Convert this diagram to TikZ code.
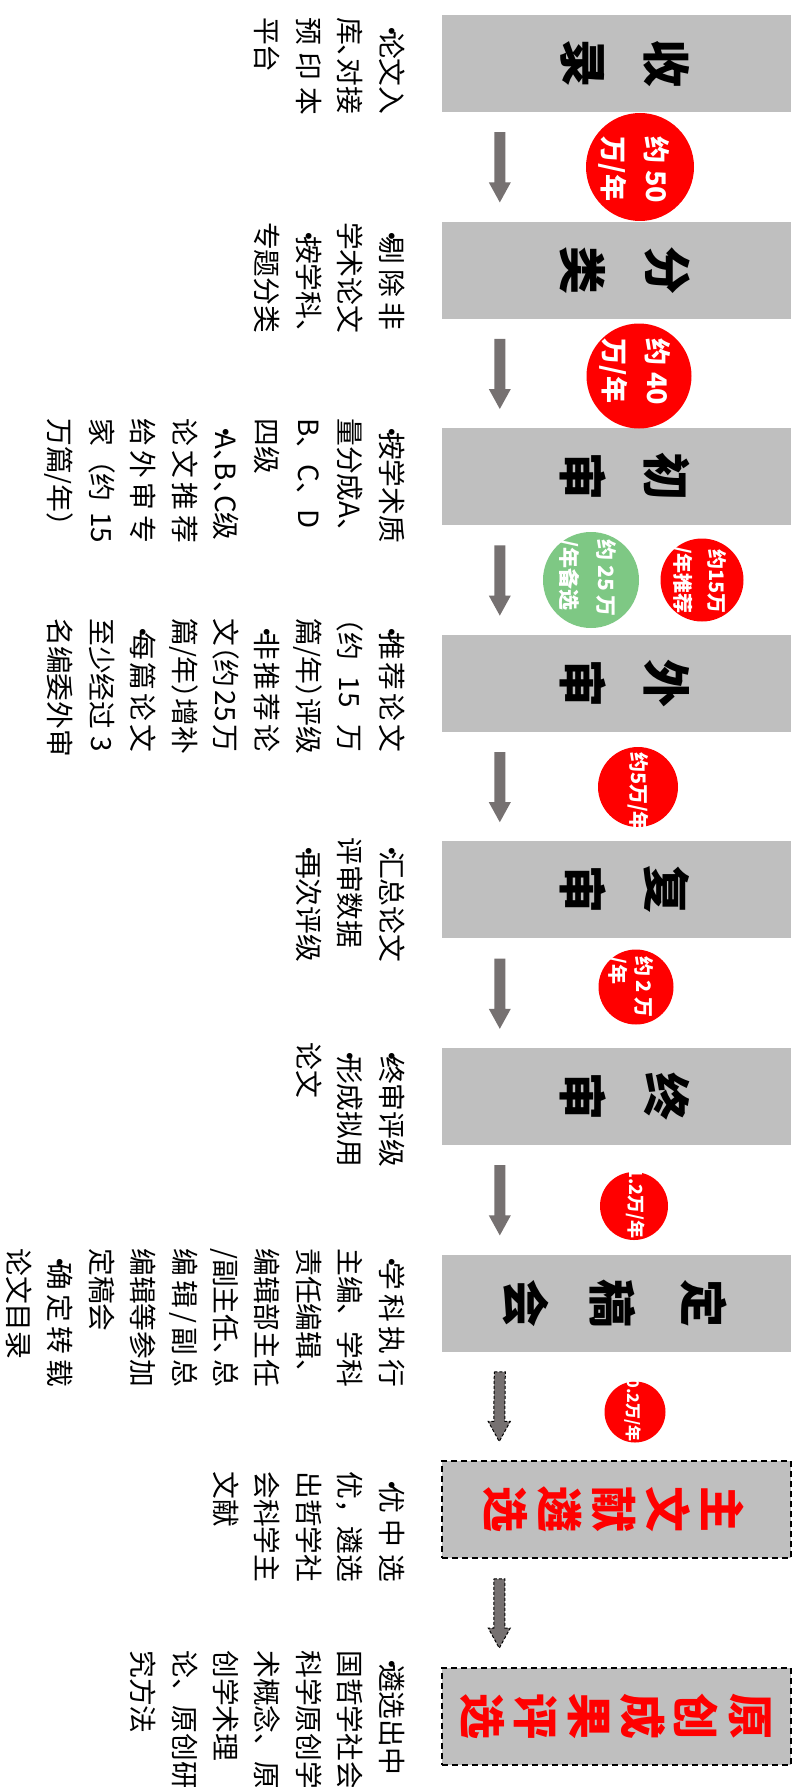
\documentclass[tikz,border=0pt]{standalone}
\usepackage{fontspec}
\setmainfont{Noto Sans CJK SC}
\usetikzlibrary{calc}
\definecolor{boxgray}{HTML}{BFBFBF}
\definecolor{arrgray}{HTML}{767171}
\definecolor{cred}{HTML}{FF0000}
\definecolor{cgreen}{HTML}{7EC884}
\newcommand\cdun{\makebox[0.5em][l]{、}}
\newcommand\clp{\makebox[0.5em][r]{（}}
\newcommand\crp{\makebox[0.5em][l]{）}}
\newcommand\cbul{\makebox[0.5em][l]{•}}
\newcommand\txtblock[4]{\foreach \myline [count=\n] in {#4}{\node[tline] (#1-\n) at ({381-41.4*(\n-1)},#2) {\makebox[#3pt][l]{\myline}};}}
\newcommand\blockarrow[3]{\path[#1] ($(#2)+(-5.5,0)$) -- ($(#2)+(5.5,0)$) -- ($(#3)+(5.5,-20)$) -- ($(#3)+(11,-20)$) -- (#3) -- ($(#3)+(-11,-20)$) -- ($(#3)+(-5.5,-20)$) -- cycle;}
\begin{document}
\begin{tikzpicture}[x=1pt,y=-1pt,
  box/.style={rectangle,fill=boxgray,minimum width=349pt,minimum height=97pt,inner sep=0pt},
  dbox/.style={box,draw=black,line width=1.5pt,dash pattern=on 6pt off 4pt},
  ttl/.style={rotate=-90,inner sep=0pt,font=\fontsize{48}{48}\selectfont\bfseries},
  rttl/.style={rotate=-90,inner sep=0pt,text=cred,font=\fontsize{46}{46}\selectfont\bfseries},
  tline/.style={anchor=base west,rotate=-90,inner sep=0pt,font=\fontsize{27.8}{33}\selectfont},
  disc/.style={circle,fill=cred,inner sep=0pt},
  dtxt/.style={rotate=-90,inner sep=0pt,text=white},
  sarrow/.style={fill=arrgray},
  darrow/.style={fill=arrgray,draw=black,line width=1pt,dash pattern=on 3pt off 2pt}]
\fill[white] (0,0) rectangle (795,1787);
\useasboundingbox (0,0) rectangle (795,1787);
% boxes
\foreach \i in {0,...,6} {\node[box] (b\i) at (616.5,{63.5+206.6*\i}) {};}
\node[dbox] (b7) at (616.5,1509.7) {};
\node[dbox] (b8) at (616.5,1716.3) {};
% arrows
\foreach \i [count=\j from 1] in {0,...,7} {
  \coordinate (as\i) at ($(b\i.south west)+(58,20)$);
  \coordinate (ae\i) at ($(b\j.north west)+(58,-19)$);
}
\foreach \i in {0,...,5} {\blockarrow{sarrow}{as\i}{ae\i}}
\blockarrow{darrow}{as6}{ae6}
\blockarrow{darrow}{as7}{ae7}
% titles
\foreach \i/\a/\b in {0/收/录,1/分/类,2/初/审,3/外/审,4/复/审,5/终/审} {
  \node[ttl] (t\i-a) at (667,{63.5+206.6*\i}) {\a};
  \node[ttl] (t\i-b) at (583,{63.5+206.6*\i}) {\b};
}
\node[ttl] (t6-a) at (704,1303.1) {定};
\node[ttl] (t6-b) at (613,1303.1) {稿};
\node[ttl] (t6-c) at (526,1303.1) {会};
\foreach \c [count=\k from 0] in {主,文,献,遴,选} {\node[rttl] (t7-\k) at ({722.5-54.25*\k},1509.7) {\c};}
\foreach \c [count=\k from 0] in {原,创,成,果,评,选} {\node[rttl] (t8-\k) at ({750-53.6*\k},1716.3) {\c};}
% circles
\node[disc,minimum size=108pt] (c1) at (640,167) {};
\node[disc,minimum size=105pt] (c2) at (639,376) {};
\node[disc,minimum size=83pt] (c3) at (702,580) {};
\node[disc,fill=cgreen,minimum size=96pt] (c3g) at (591,580) {};
\node[disc,minimum size=80pt] (c4) at (638,787) {};
\node[disc,minimum size=75pt] (c5) at (636,987) {};
\node[disc,minimum size=68pt] (c6) at (634,1206) {};
\node[disc,minimum size=61pt] (c7) at (635,1412) {};
\node[dtxt,align=left,font=\fontsize{27}{43}\selectfont\bfseries] (c1t) at ($(c1)+(-6,3)$) {约 50\\万/年};
\node[dtxt,align=left,font=\fontsize{27}{43}\selectfont\bfseries] (c2t) at ($(c2)+(-4,-4)$) {约 40\\万/年};
\node[dtxt,align=right,font=\fontsize{20}{34}\selectfont\bfseries] (c3t) at ($(c3)+(-3,0)$) {约15万\\/年推荐};
\node[dtxt,align=left,font=\fontsize{21}{37}\selectfont\bfseries] (c3gt) at ($(c3g)+(-4,-2)$) {约 25 万\\/年备选};
\node[dtxt,font=\fontsize{20}{24}\selectfont\bfseries] (c4t) at ($(c4)+(0,5)$) {约5万/年};
\node[dtxt,align=left,font=\fontsize{20}{26}\selectfont\bfseries] (c5t) at ($(c5)+(-6,0)$) {约 2 万\\/年};
\node[dtxt,font=\fontsize{18}{22}\selectfont\bfseries] (c6t) at ($(c6)+(2,-3)$) {1.2万/年};
\node[dtxt,font=\fontsize{16}{20}\selectfont\bfseries] (c7t) at ($(c7)+(-2,-2)$) {0.2万/年};
% text blocks
\txtblock{d0}{17}{98}{{\cbul 论文入},{库\cdun 对接},{预\hfill 印\hfill 本},{平台}}
\txtblock{d1}{222}{108}{{\cbul 剔\hfill 除\hfill 非},{学术论文},{\cbul 按学科\cdun},{专题分类}}
\txtblock{d2}{418}{125}{{\cbul 按学术质},{量分成A\cdun},{B、\hfill C、\hfill D\hspace{16pt}},{四级},{\cbul A\cdun B\cdun C级},{论\hfill 文\hfill 推\hfill 荐},{给\hfill 外\hfill 审\hfill 专},{家（约\hfill 15},{万篇/年）}}
\txtblock{d3}{618}{134}{{\cbul 推\hfill 荐\hfill 论\hfill 文},{\clp 约\hfill 15\hfill 万},{篇/年\crp 评级},{\cbul 非\hfill 推\hfill 荐\hfill 论},{文\clp 约\hfill 25\hfill 万},{篇/年\crp 增补},{\cbul 每\hfill 篇\hfill 论\hfill 文},{至少经过\hfill 3},{名编委外审}}
\txtblock{d4}{837}{121}{{\cbul 汇\hfill 总\hfill 论\hfill 文},{评审数据},{\cbul 再次评级}}
\txtblock{d5}{1042}{120}{{\cbul 终\hfill 审\hfill 评\hfill 级},{\cbul 形成拟用},{论文}}
\txtblock{d6}{1248}{139}{{\cbul 学\hfill 科\hfill 执\hfill 行},{主编、\hfill 学科},{责任编辑、},{编辑部主任},{/副主任\cdun\hfill 总},{编\hfill 辑\hfill /\hfill 副\hfill 总},{编辑等参加},{定稿会},{\cbul 确\hfill 定\hfill 转\hfill 载},{论文目录}}
\txtblock{d7}{1471}{111}{{\cbul 优\hfill 中\hfill 选},{优，遴选},{出哲学社},{会科学主},{文献}}
\txtblock{d8}{1650}{139}{{\cbul 遴选出中},{国哲学社会},{科学原创学},{术概念、原},{创学术理},{论、原创研},{究方法}}
\end{tikzpicture}
\end{document}
